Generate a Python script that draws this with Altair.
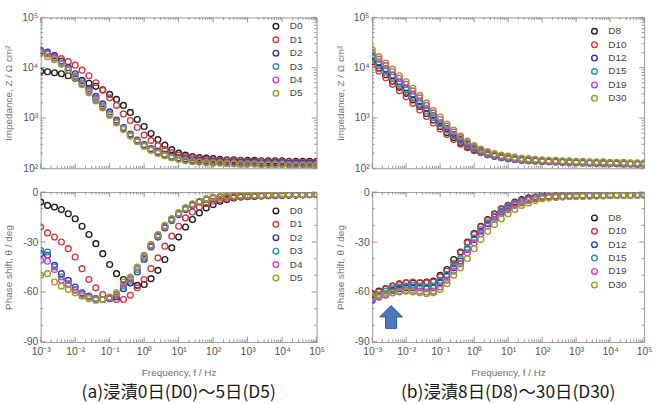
import altair as alt
import pandas as pd

# ---------------------------------------------------------------------------
# Measurement frequencies (5 points per decade, 1 mHz .. 100 kHz)
# ---------------------------------------------------------------------------
FREQ_HZ = [0.001, 0.00158, 0.00251, 0.00398, 0.00631,
           0.01, 0.0158, 0.0251, 0.0398, 0.0631,
           0.1, 0.158, 0.251, 0.398, 0.631,
           1, 1.58, 2.51, 3.98, 6.31,
           10, 15.8, 25.1, 39.8, 63.1,
           100, 158, 251, 398, 631,
           1000, 1580, 2510, 3980, 6310,
           10000, 15800, 25100, 39800, 63100,
           100000]

# log10 |Z| (ohm cm^2), immersion days 0-5
LOGZ_D0 = [3.93, 3.92, 3.90, 3.88, 3.84, 3.79, 3.75, 3.69, 3.63, 3.56, 3.47, 3.37, 3.25, 3.11, 2.97, 2.83, 2.69, 2.57, 2.46, 2.37,
           2.30, 2.26, 2.23, 2.21, 2.20, 2.19, 2.18, 2.17, 2.17, 2.16, 2.16, 2.16, 2.15, 2.15, 2.15, 2.15, 2.14, 2.14, 2.14, 2.14, 2.14]
LOGZ_D1 = [4.33, 4.30, 4.24, 4.18, 4.12, 4.05, 3.95, 3.84, 3.70, 3.55, 3.40, 3.25, 3.08, 2.95, 2.81, 2.66, 2.55, 2.45, 2.37, 2.31,
           2.26, 2.23, 2.21, 2.19, 2.18, 2.17, 2.16, 2.16, 2.15, 2.15, 2.14, 2.14, 2.14, 2.13, 2.13, 2.13, 2.13, 2.12, 2.12, 2.12, 2.12]
LOGZ_D2 = [4.34, 4.31, 4.24, 4.13, 4.00, 3.88, 3.74, 3.59, 3.43, 3.28, 3.12, 2.96, 2.81, 2.68, 2.56, 2.47, 2.39, 2.33, 2.28, 2.24,
           2.21, 2.19, 2.17, 2.16, 2.15, 2.14, 2.14, 2.13, 2.13, 2.12, 2.12, 2.12, 2.11, 2.11, 2.11, 2.11, 2.10, 2.10, 2.10, 2.10, 2.10]
LOGZ_D3 = [4.35, 4.29, 4.20, 4.09, 3.96, 3.84, 3.70, 3.55, 3.39, 3.24, 3.08, 2.93, 2.79, 2.66, 2.54, 2.45, 2.37, 2.31, 2.26, 2.22,
           2.19, 2.17, 2.15, 2.14, 2.13, 2.12, 2.12, 2.11, 2.11, 2.10, 2.10, 2.10, 2.09, 2.09, 2.09, 2.09, 2.08, 2.08, 2.08, 2.08, 2.08]
LOGZ_D4 = [4.30, 4.27, 4.19, 4.08, 3.95, 3.82, 3.68, 3.53, 3.37, 3.22, 3.07, 2.92, 2.78, 2.65, 2.53, 2.44, 2.36, 2.30, 2.25, 2.21,
           2.18, 2.16, 2.14, 2.13, 2.12, 2.11, 2.11, 2.10, 2.10, 2.09, 2.09, 2.09, 2.08, 2.08, 2.08, 2.08, 2.07, 2.07, 2.07, 2.07, 2.07]
LOGZ_D5 = [4.28, 4.22, 4.16, 4.07, 3.95, 3.80, 3.66, 3.50, 3.34, 3.20, 3.05, 2.90, 2.77, 2.64, 2.53, 2.44, 2.36, 2.30, 2.25, 2.21,
           2.18, 2.15, 2.13, 2.12, 2.11, 2.10, 2.10, 2.09, 2.09, 2.08, 2.08, 2.08, 2.07, 2.07, 2.07, 2.07, 2.06, 2.06, 2.06, 2.06, 2.06]

# phase shift (deg), immersion days 0-5
PH_D0 = [-6, -8, -9, -10.5, -13, -16, -20.5, -25.5, -31, -37, -43.5, -49, -52.5, -54.5, -56, -55.5, -52, -47, -40.5, -33.5,
         -27, -21, -16.5, -12.5, -9.5, -7.5, -5.5, -4.5, -3.5, -3, -2.8, -2.6, -2.4, -2.2, -2.1, -2, -1.9, -1.8, -1.7, -1.6, -1.5]
PH_D1 = [-21, -24.5, -27, -30, -34, -39, -46, -52.5, -57.5, -61.5, -63.5, -64.5, -64.5, -62, -57.5, -52.5, -46, -39.5, -32.5, -26.5,
         -20.5, -15.5, -12, -9, -7, -5.5, -4.5, -3.8, -3.2, -2.8, -2.6, -2.4, -2.2, -2.1, -2, -1.9, -1.8, -1.7, -1.6, -1.5, -1.5]
PH_D2 = [-37, -38, -44, -49, -53, -57, -60.5, -62.5, -64, -64.5, -64, -63, -58, -54.5, -48, -40.5, -33, -27, -21.5, -17,
         -13.5, -10.5, -8, -6, -4.5, -3.5, -3, -2.6, -2.3, -2.1, -2, -1.9, -1.8, -1.7, -1.6, -1.6, -1.5, -1.5, -1.4, -1.4, -1.4]
PH_D3 = [-35, -36, -45, -51, -55, -58.5, -61, -63, -64, -64.5, -63.5, -62, -56.5, -53, -46.5, -39.5, -32.5, -26.5, -21, -16.5,
         -13, -10, -7.5, -5.5, -4.5, -3.5, -3, -2.6, -2.3, -2.1, -2, -1.9, -1.8, -1.7, -1.6, -1.6, -1.5, -1.5, -1.4, -1.4, -1.4]
PH_D4 = [-41, -41.5, -46.5, -53, -55.5, -59, -61.5, -63, -64.5, -64.5, -63.5, -61.5, -55.5, -52, -45.5, -38.5, -32, -26, -20.5, -16,
         -12.5, -9.5, -7.5, -5.5, -4, -3.3, -2.8, -2.5, -2.2, -2, -1.9, -1.8, -1.7, -1.6, -1.5, -1.5, -1.4, -1.4, -1.3, -1.3, -1.3]
PH_D5 = [-50, -49, -54, -56.5, -58.5, -60.5, -62.5, -64, -65, -64.5, -63, -60.5, -54, -51, -45, -38, -31.5, -25.5, -20, -16,
         -12.5, -9.5, -7, -5.5, -4, -3.2, -2.7, -2.4, -2.2, -2, -1.9, -1.8, -1.7, -1.6, -1.5, -1.5, -1.4, -1.4, -1.3, -1.3, -1.3]

# log10 |Z| (ohm cm^2), immersion days 8-30
LOGZ_D8 = [4.12, 3.99, 3.86, 3.73, 3.61, 3.49, 3.36, 3.23, 3.09, 2.96, 2.83, 2.71, 2.61, 2.51, 2.43, 2.37, 2.32, 2.27, 2.24, 2.21,
           2.19, 2.18, 2.16, 2.15, 2.15, 2.14, 2.13, 2.13, 2.12, 2.12, 2.11, 2.11, 2.11, 2.10, 2.10, 2.10, 2.09, 2.09, 2.09, 2.08, 2.08]
LOGZ_D10 = [4.06, 3.93, 3.80, 3.67, 3.54, 3.42, 3.29, 3.16, 3.03, 2.90, 2.78, 2.67, 2.57, 2.48, 2.41, 2.35, 2.31, 2.27, 2.24, 2.21,
            2.19, 2.17, 2.16, 2.15, 2.14, 2.13, 2.13, 2.12, 2.12, 2.11, 2.11, 2.10, 2.10, 2.10, 2.09, 2.09, 2.09, 2.08, 2.08, 2.08, 2.08]
LOGZ_D12 = [4.24, 4.11, 3.98, 3.85, 3.72, 3.60, 3.47, 3.33, 3.19, 3.05, 2.91, 2.79, 2.67, 2.57, 2.48, 2.40, 2.34, 2.29, 2.25, 2.23,
            2.21, 2.19, 2.18, 2.17, 2.16, 2.15, 2.14, 2.14, 2.13, 2.13, 2.12, 2.12, 2.11, 2.11, 2.11, 2.10, 2.10, 2.10, 2.09, 2.09, 2.09]
LOGZ_D15 = [4.20, 4.07, 3.94, 3.81, 3.68, 3.56, 3.43, 3.29, 3.15, 3.01, 2.88, 2.76, 2.65, 2.55, 2.46, 2.39, 2.33, 2.28, 2.25, 2.22,
            2.20, 2.19, 2.17, 2.16, 2.15, 2.15, 2.14, 2.13, 2.13, 2.12, 2.12, 2.11, 2.11, 2.11, 2.10, 2.10, 2.10, 2.09, 2.09, 2.09, 2.09]
LOGZ_D19 = [4.30, 4.17, 4.04, 3.92, 3.79, 3.67, 3.54, 3.40, 3.25, 3.10, 2.97, 2.84, 2.72, 2.61, 2.51, 2.43, 2.36, 2.31, 2.27, 2.24,
            2.22, 2.20, 2.19, 2.18, 2.17, 2.16, 2.15, 2.15, 2.14, 2.14, 2.13, 2.13, 2.12, 2.12, 2.12, 2.11, 2.11, 2.11, 2.10, 2.10, 2.10]
LOGZ_D30 = [4.36, 4.22, 4.09, 3.97, 3.84, 3.72, 3.59, 3.45, 3.30, 3.15, 3.02, 2.88, 2.76, 2.64, 2.54, 2.45, 2.38, 2.33, 2.29, 2.26,
            2.24, 2.22, 2.20, 2.19, 2.18, 2.17, 2.16, 2.16, 2.15, 2.15, 2.14, 2.14, 2.13, 2.13, 2.13, 2.12, 2.12, 2.12, 2.11, 2.11, 2.11]

# phase shift (deg), immersion days 8-30
PH_D8 = [-61, -59.5, -58, -56.5, -55.5, -54.5, -54.5, -54.5, -54, -53.5, -50, -46.5, -40.5, -36, -30, -25, -20.5, -16.5, -13, -10,
         -8, -6, -4.5, -3.5, -3, -2.8, -2.5, -2.4, -2.3, -2.2, -2.1, -2, -2, -1.9, -1.9, -1.8, -1.8, -1.7, -1.7, -1.6, -1.6]
PH_D10 = [-62, -60, -58, -56.5, -55, -54.5, -54, -54.5, -54.5, -54, -51, -47.5, -43, -36.5, -30.5, -25.5, -21, -17, -13.5, -10.5,
          -8, -6.5, -5, -4, -3, -2.5, -2.5, -2.4, -2.3, -2.2, -2.1, -2.1, -2, -2, -1.9, -1.9, -1.8, -1.8, -1.7, -1.7, -1.6]
PH_D12 = [-65, -63, -61, -59, -58, -57.5, -57.5, -57.5, -58, -57.5, -54.5, -50.5, -45.5, -41.5, -34.5, -28.5, -23.5, -19, -15, -12,
          -9.5, -7.5, -5.5, -4.5, -3.5, -0.5, -3, -2.8, -2.6, -2.5, -2.4, -2.3, -2.2, -2.1, -2, -2, -1.9, -1.9, -1.8, -1.8, -1.7]
PH_D15 = [-63, -61.5, -59.5, -58, -57, -56.5, -56, -56.5, -57, -56.5, -53, -49.5, -44.5, -40, -33.5, -27.5, -22.5, -18.5, -14.5, -11.5,
          -9, -7, -5.5, -4.5, -3.5, -3, -3, -2.8, -2.6, -2.5, -2.4, -2.3, -2.2, -2.1, -2, -2, -1.9, -1.9, -1.8, -1.8, -1.7]
PH_D19 = [-64, -63, -62, -60.5, -59.5, -59, -59, -59.5, -60, -59.5, -57, -53, -47.5, -43, -36.5, -30.5, -25, -20.5, -16.5, -13,
          -10.5, -8, -6.5, -5, -4, -3.5, -3, -2.9, -2.7, -2.6, -2.5, -2.4, -2.3, -2.2, -2.1, -2.1, -2, -2, -1.9, -1.9, -1.8]
PH_D30 = [-62.5, -62, -61, -60.5, -60, -59.5, -60, -60.5, -61, -60.5, -58.5, -55, -50, -45.5, -40, -34, -28.5, -23.5, -19.5, -16,
          -13, -10.5, -8, -6.5, -5, -4, -3.5, -3.2, -3, -2.8, -2.7, -2.6, -2.5, -2.4, -2.3, -2.2, -2.1, -2.1, -2, -2, -1.9]

SERIES_A = ["D0", "D1", "D2", "D3", "D4", "D5"]
SERIES_B = ["D8", "D10", "D12", "D15", "D19", "D30"]
PALETTE = ["#1e1e1e", "#d2393f", "#2c36b0", "#22989a", "#d23cd2", "#9c9c22"]

CAPTION_A = "(a)浸漬0日(D0)～5日(D5)"
CAPTION_B = "(b)浸漬8日(D8)～30日(D30)"

# Arrow annotation in the phase plot of panel (b)
ARROW_AT_HZ = [0.0036]
ARROW_AT_DEG = [-75]

# Axis tick positions
DECADES_HZ = [1e-3, 1e-2, 1e-1, 1e0, 1e1, 1e2, 1e3, 1e4, 1e5]
DECADES_Z = [1e2, 1e3, 1e4, 1e5]
PHASE_MAJOR = [0, -30, -60, -90]
PHASE_MINOR = [-10, -20, -40, -50, -70, -80]
MINOR_MULT = [2, 3, 4, 5, 6, 7, 8, 9]

HZ_MINOR = [m * d for d in DECADES_HZ[:-1] for m in MINOR_MULT]
Z_MINOR = [m * d for d in DECADES_Z[:-1] for m in MINOR_MULT]

FONT = "Liberation Sans"
LABEL_COLOR = "#555555"
TITLE_COLOR = "#707070"
TICK_COLOR = "#8a8a8a"

TOP_H = 152
BOT_H = 151
W_A = 278
W_B = 274

X_SCALE = alt.Scale(type="log", domain=[1e-3, 1e5], nice=False)
Z_SCALE = alt.Scale(type="log", domain=[1e2, 1e5], nice=False)
PH_SCALE = alt.Scale(domain=[-90, 0], nice=False, zero=False)

X_LABELS = ("'10' + ['⁻³','⁻²','⁻¹','⁰','¹','²','³','⁴','⁵']"
            "[round(log(datum.value) / LN10) + 3]")
Z_LABELS = "'10' + ['²','³','⁴','⁵'][round(log(datum.value) / LN10) - 2]"
PH_LABELS = "datum.value == 0 ? '0' : '-' + abs(datum.value)"


def long_table(names, columns, transform=None):
    rows = []
    for name, vals in zip(names, columns):
        for f, v in zip(FREQ_HZ, vals):
            rows.append({"f": f, "series": name, "val": (10 ** v) if transform == "pow10" else v})
    return pd.DataFrame(rows)


def y_axis(values, expr, title, height):
    return alt.Axis(values=values, labelExpr=expr, title=title, ticks=False, domain=False, grid=False,
                    labelFont=FONT, labelFontSize=10.5, labelColor=LABEL_COLOR, labelPadding=3,
                    labelOverlap=False, titleFont=FONT, titleFontSize=10, titleFontWeight="normal",
                    titleColor=TITLE_COLOR, titleAngle=-90, titleX=-32, titleY=height / 2,
                    titleAlign="center", titleBaseline="middle")


def x_axis():
    return alt.Axis(values=DECADES_HZ, labelExpr=X_LABELS, title="Frequency, f / Hz", ticks=False,
                    domain=False, grid=False, labelFont=FONT, labelFontSize=10.5, labelColor=LABEL_COLOR,
                    labelPadding=5, labelFlush=False, labelOverlap=False, titleFont=FONT, titleFontSize=10,
                    titleFontWeight="normal", titleColor=TITLE_COLOR, titlePadding=10)


def inward_ticks(xax, yax, y_major, y_minor, y_scale, width, height):
    """Short tick rules drawn inside the frame on all four sides."""
    layers = []
    for vals, ln in ((DECADES_HZ, 5), (HZ_MINOR, 2.5)):
        d = pd.DataFrame({"f": vals})
        for y0, y1 in ((height, height - ln), (0, ln)):
            layers.append(alt.Chart(d).mark_rule(color=TICK_COLOR, strokeWidth=0.9).encode(
                x=alt.X("f:Q", scale=X_SCALE, axis=xax), y=alt.value(y0), y2=alt.value(y1)))
    for vals, ln in ((y_major, 5), (y_minor, 2.5)):
        d = pd.DataFrame({"val": vals})
        for x0, x1 in ((0, ln), (width, width - ln)):
            layers.append(alt.Chart(d).mark_rule(color=TICK_COLOR, strokeWidth=0.9).encode(
                y=alt.Y("val:Q", scale=y_scale, axis=yax), x=alt.value(x0), x2=alt.value(x1)))
    return layers


def panel(df, names, kind, width, height, show_x, legend_xy, extra=None, title=None):
    if kind == "z":
        y_scale, yax = Z_SCALE, y_axis(DECADES_Z, Z_LABELS, "Impedance, Z / Ω cm²", height)
        y_major, y_minor = DECADES_Z, Z_MINOR
    else:
        y_scale, yax = PH_SCALE, y_axis(PHASE_MAJOR, PH_LABELS, "Phase shift, θ / deg", height)
        y_major, y_minor = PHASE_MAJOR, PHASE_MINOR
    xax = x_axis() if show_x else None
    legend = alt.Legend(orient="none", legendX=legend_xy[0], legendY=legend_xy[1], title=None,
                        symbolType="circle", symbolSize=32, symbolStrokeWidth=1.4, labelFont=FONT,
                        labelFontSize=10, labelColor="#444444", labelOffset=9, rowPadding=1.5, padding=0)
    pts = alt.Chart(df).mark_point(filled=False, size=34, strokeWidth=1.4, opacity=1, clip=True).encode(
        x=alt.X("f:Q", scale=X_SCALE, axis=xax),
        y=alt.Y("val:Q", scale=y_scale, axis=yax),
        color=alt.Color("series:N", scale=alt.Scale(domain=names, range=PALETTE), legend=legend),
    )
    layers = [pts] + inward_ticks(xax, yax, y_major, y_minor, y_scale, width, height)
    if extra is not None:
        layers.append(extra(xax, yax))
    props = dict(width=width, height=height)
    if title is not None:
        props["title"] = title
    return alt.layer(*layers).properties(**props)


z_a = long_table(SERIES_A, [LOGZ_D0, LOGZ_D1, LOGZ_D2, LOGZ_D3, LOGZ_D4, LOGZ_D5], "pow10")
p_a = long_table(SERIES_A, [PH_D0, PH_D1, PH_D2, PH_D3, PH_D4, PH_D5])
z_b = long_table(SERIES_B, [LOGZ_D8, LOGZ_D10, LOGZ_D12, LOGZ_D15, LOGZ_D19, LOGZ_D30], "pow10")
p_b = long_table(SERIES_B, [PH_D8, PH_D10, PH_D12, PH_D15, PH_D19, PH_D30])

ARROW_PATH = "M-0.48,1 L-0.48,0 L-1,0 L0,-1 L1,0 L0.48,0 L0.48,1 Z"


def arrow_layer(xax, yax):
    return alt.Chart(pd.DataFrame({"f": ARROW_AT_HZ, "val": ARROW_AT_DEG})).mark_point(
        shape=ARROW_PATH, size=530, filled=True, fill="#4a78ba", stroke="#2f5a98", strokeWidth=1, opacity=1
    ).encode(x=alt.X("f:Q", scale=X_SCALE, axis=xax), y=alt.Y("val:Q", scale=PH_SCALE, axis=yax))


def caption(text):
    return alt.TitleParams(text, orient="bottom", anchor="middle", font="Noto Sans CJK JP",
                           fontSize=17.5, fontWeight="normal", color="#1a1a1a", offset=7)


chart = alt.concat(
    panel(z_a, SERIES_A, "z", W_A, TOP_H, False, (232, 4)),
    panel(z_b, SERIES_B, "z", W_B, TOP_H, False, (219, 9)),
    panel(p_a, SERIES_A, "ph", W_A, BOT_H, True, (232, 14), title=caption(CAPTION_A)),
    panel(p_b, SERIES_B, "ph", W_B, BOT_H, True, (219, 21), extra=arrow_layer, title=caption(CAPTION_B)),
    columns=2, spacing=alt.RowColnumber(row=24, column=56), bounds="flush",
).resolve_scale(
    color="independent", x="independent", y="independent"
).properties(
    padding={"left": 3, "top": 10, "right": 4, "bottom": 2}, background="white"
).configure_view(stroke="#9a9a9a", strokeWidth=1)

chart.save("out.html", embed_options={"renderer": "svg", "actions": False})
